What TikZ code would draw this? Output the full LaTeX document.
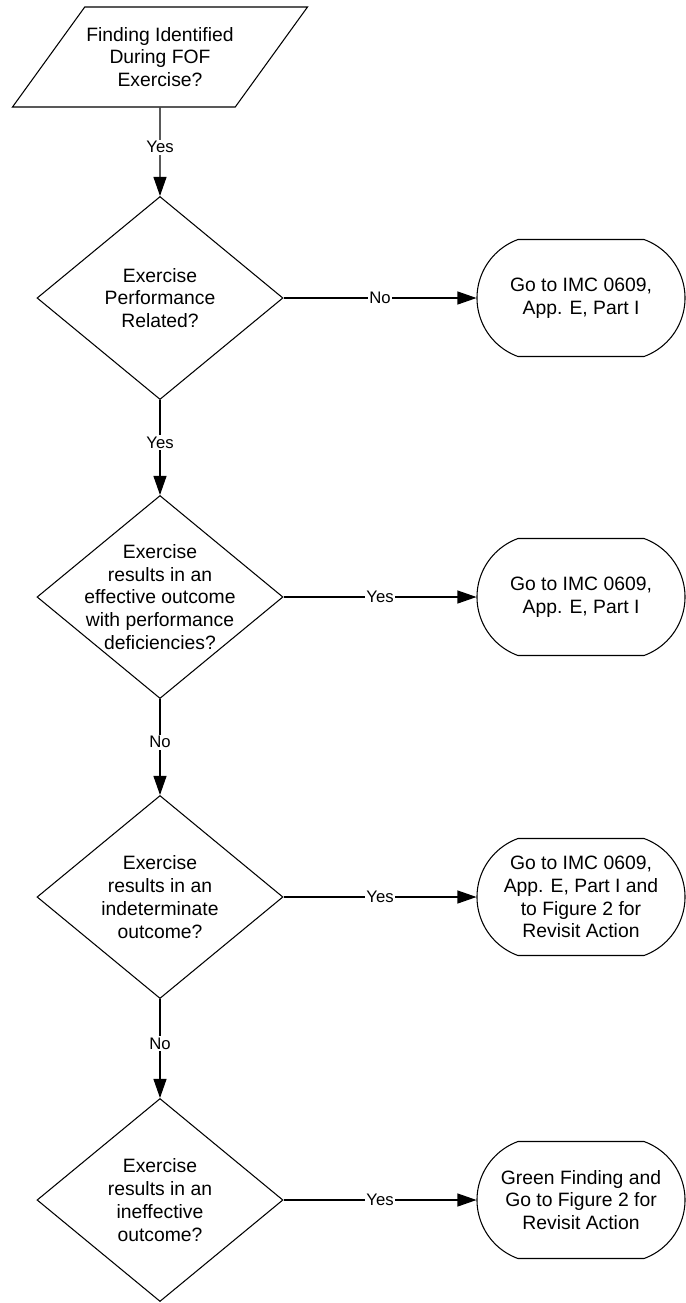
\documentclass[tikz,border=0pt]{standalone}
\usepackage{fontspec}
\setmainfont{Liberation Sans}
\usetikzlibrary{arrows.meta,positioning,shapes.geometric,shapes.misc}

\begin{document}
\begin{tikzpicture}[
  >={Triangle[length=3.8mm, width=2.6mm]},
  font=\fontsize{11}{13}\selectfont,
  line width=0.6pt,
  query/.style={trapezium, trapezium left angle=53, trapezium right angle=127,
                trapezium stretches body, draw, minimum width=5.9cm,
                minimum height=2cm, align=center, inner xsep=0pt, inner ysep=3.6mm},
  decision/.style={diamond, draw, minimum width=4.92cm, minimum height=4.06cm,
                   align=center, inner sep=0pt},
  goto/.style={rounded rectangle, rounded rectangle arc length=140, draw,
               minimum width=4.16cm, minimum height=2.34cm, align=center, inner sep=0pt},
  flow/.style={->},
  answer/.style={fill=white, inner sep=1pt, font=\fontsize{9.5}{11}\selectfont},
]
\useasboundingbox (0,0) rectangle (13.72,-26.06);

% Starting question
\node[query] (start) at (3.2,-1.14) {Finding Identified\\During FOF\\Exercise?};

% Chain of decisions down the left
\node[decision] (d1) at (3.2,-5.96)  {Exercise\\Performance\\Related?};
\node[decision, inner sep=-3mm] (d2) at (3.2,-11.94) {Exercise\\results in an\\effective outcome\\with performance\\deficiencies?};
\node[decision] (d3) at (3.2,-17.94) {Exercise\\results in an\\indeterminate\\outcome?};
\node[decision] (d4) at (3.2,-24.0)  {Exercise\\results in an\\ineffective\\outcome?};

% Outcomes on the right
\node[goto] (t1) at (11.62,-5.96)  {Go to IMC 0609,\\App. E, Part I};
\node[goto] (t2) at (11.62,-11.94) {Go to IMC 0609,\\App. E, Part I};
\node[goto] (t3) at (11.62,-17.94) {Go to IMC 0609,\\App. E, Part I and\\to Figure 2 for\\Revisit Action};
\node[goto] (t4) at (11.62,-24.0)  {Green Finding and\\Go to Figure 2 for\\Revisit Action};

% Downward flow
\draw[flow] (start) -- node[answer, pos=0.45] {Yes} (d1);
\foreach \a/\b/\t in {d1/d2/Yes, d2/d3/No, d3/d4/No}
  {\draw[flow] (\a) -- node[answer, pos=0.45] {\t} (\b);}

% Branches to the outcomes
\foreach \a/\b/\t in {d1/t1/No, d2/t2/Yes, d3/t3/Yes, d4/t4/Yes}
  {\draw[flow] (\a) -- node[answer] {\t} (\b);}

\end{tikzpicture}
\end{document}
